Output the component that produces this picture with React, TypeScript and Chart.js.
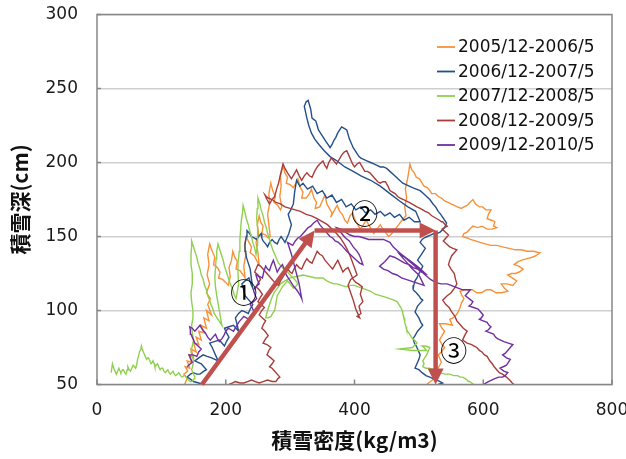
import React, { useEffect, useRef } from "react";
import { Chart, registerables } from "chart.js";

Chart.register(...registerables);

// ---- labels ----
const seriesLabels = [
  "2005/12-2006/5",
  "2006/12-2007/5",
  "2007/12-2008/5",
  "2008/12-2009/5",
  "2009/12-2010/5",
];
const seriesColors = ["#F7923A", "#24508A", "#8FD14F", "#A83E3A", "#7030A0"];
const xTitle = "積雪密度(kg/m3)";
const yTitle = "積雪深(cm)";
const xRange = [0, 800];
const yRange = [50, 300];

// ---- series: [density kg/m3, depth cm] ----
const s2006: [number, number][] = [
  [136,50],[140,54],[135,57],[141,59],[137,62],[144,61],[140,66],[147,65],[143,70],[150,68],[146,74],[154,72],[150,78],[158,77],[154,82],[162,80],[158,86],[166,85],[162,90],[170,88],[166,95],[174,93],[170,100],[178,97],[172,104],[176,108],[170,112],[175,118],[171,124],[174,131],[172,138],[175,145],[179,140],[183,136],[181,131],[187,129],[191,126],[189,122],[195,121],[200,119],[204,117],[207,123],[205,129],[209,134],[211,140],[214,136],[218,133],[216,128],[222,127],[227,124],[230,122],[228,130],[231,137],[229,144],[232,150],[236,146],[240,143],[238,139],[244,137],[249,133],[252,131],[250,139],[247,146],[251,152],[249,158],[252,164],[254,160],[258,157],[256,152],[262,151],[266,149],[269,150],[267,158],[265,165],[268,172],[267,179],[270,186],[273,181],[277,177],[275,173],[281,171],[285,168],[287,170],[284,177],[286,184],[285,191],[289,198],[292,193],[296,190],[294,186],[300,185],[305,183],[309,186],[312,189],[316,183],[320,180],[318,176],[325,176],[330,179],[333,182],[337,176],[341,173],[339,169],[346,170],[351,175],[354,178],[357,172],[361,169],[365,166],[363,163],[369,168],[373,171],[377,167],[381,165],[385,161],[389,159],[393,164],[397,166],[401,161],[405,158],[409,155],[414,158],[418,161],[422,158],[426,155],[430,152],[435,155],[440,158],[444,155],[448,153],[453,150],[458,152],[463,155],[467,157],[472,160],[476,162],[480,164],[478,170],[481,176],[479,182],[482,188],[484,193],[486,199],[489,195],[493,193],[496,190],[501,189],[505,186],[508,184],[513,183],[517,181],[520,179],[526,179],[530,177],[535,176],[540,174],[545,173],[550,172],[555,171],[560,170],[566,169],[570,170],[575,171],[579,173],[584,175],[588,172],[594,170],[599,170],[604,168],[612,168],[608,165],[606,162],[613,161],[618,160],[616,157],[621,156],[614,155],[606,155],[598,157],[591,156],[584,157],[579,155],[575,153],[570,152],[568,150],[575,149],[580,148],[588,147],[595,146],[603,145],[612,144],[621,144],[630,143],[640,142],[650,141],[659,141],[668,140],[678,140],[688,139],[682,137],[676,136],[668,135],[660,134],[654,133],[648,131],[655,130],[662,128],[656,126],[650,125],[644,125],[638,124],[645,122],[652,120],[648,118],[646,117],[637,118],[628,118],[633,115],[638,113],[629,112],[620,112],[612,114],[605,114],[597,112],[590,112],[583,114],[576,114],[570,114],[564,113],[567,110],[570,108],[566,105],[564,102],[561,99],[558,97],[553,95],[548,94],[550,92],[552,90],[542,91],[532,91],[536,88],[540,86],[536,83],[532,80],[536,77],[540,75],[535,72],[530,70],[533,67],[535,65],[531,62],[528,60],[527,57],[525,55],[521,53],[518,52],[512,50],
];

const s2007: [number, number][] = [
  [165,50],[158,51],[150,52],[144,54],[140,55],[145,57],[150,58],[155,57],[160,57],[166,59],[170,60],[166,62],[162,64],[157,65],[152,66],[158,68],[165,70],[171,69],[178,68],[183,67],[188,66],[185,69],[182,72],[179,75],[175,78],[182,79],[190,80],[194,78],[198,76],[201,79],[205,82],[201,85],[198,88],[205,89],[212,90],[216,88],[220,86],[218,90],[215,95],[220,98],[225,100],[230,99],[235,98],[238,101],[242,104],[236,107],[230,110],[228,114],[225,118],[230,120],[236,122],[239,118],[242,115],[240,121],[238,128],[235,132],[232,136],[231,140],[230,145],[232,150],[233,154],[237,152],[240,150],[244,149],[248,148],[251,150],[255,152],[256,149],[258,147],[262,145],[265,143],[268,146],[272,148],[276,146],[280,145],[283,148],[286,150],[289,148],[292,146],[295,149],[298,152],[300,155],[302,158],[299,162],[297,165],[301,168],[305,172],[307,180],[310,188],[315,184],[320,186],[327,182],[335,184],[342,179],[350,181],[357,176],[365,178],[372,173],[380,175],[387,170],[395,172],[402,168],[410,170],[417,166],[425,168],[432,165],[440,167],[447,164],[455,166],[462,163],[470,165],[477,161],[485,163],[493,160],[502,160],[498,164],[495,167],[483,170],[470,174],[455,179],[440,184],[425,188],[410,191],[398,194],[385,197],[373,201],[362,204],[353,208],[345,212],[338,216],[333,220],[329,225],[326,230],[324,234],[322,238],[325,241],[328,242],[330,239],[332,236],[333,233],[334,230],[337,229],[340,228],[342,225],[344,222],[347,220],[350,218],[353,216],[356,214],[359,212],[362,210],[365,212],[368,215],[371,217],[374,220],[377,222],[380,224],[384,223],[388,222],[390,219],[392,216],[395,213],[398,210],[401,208],[404,206],[407,204],[410,203],[415,202],[420,201],[425,200],[430,199],[435,198],[440,197],[445,197],[450,196],[455,194],[460,192],[465,190],[470,188],[475,186],[480,185],[485,184],[490,183],[496,182],[502,181],[507,179],[512,177],[517,175],[522,172],[526,170],[530,167],[534,165],[537,163],[540,161],[543,159],[541,157],[538,155],[533,153],[528,152],[523,152],[518,151],[513,150],[508,149],[505,148],[502,146],[506,144],[510,142],[507,140],[504,138],[501,136],[498,134],[502,132],[506,130],[503,127],[500,125],[497,122],[494,120],[492,117],[491,114],[496,112],[500,110],[503,108],[506,107],[502,105],[498,103],[496,101],[494,99],[497,97],[500,95],[503,92],[506,90],[502,88],[498,86],[494,83],[491,81],[493,78],[496,76],[499,73],[502,70],[500,67],[498,65],[496,63],[494,61],[500,60],[505,58],[511,56],[517,55],[522,54],[528,53],[533,52],[537,51],[530,50],
];

const s2008: [number, number][] = [
  [22,58],[24,64],[26,61],[27,60],[30,57],[32,59],[34,61],[36,59],[37,58],[40,60],[41,60],[43,58],[45,57],[47,60],[48,62],[50,60],[52,59],[54,61],[56,63],[58,62],[60,61],[62,64],[63,67],[65,70],[66,72],[68,74],[69,76],[70,74],[71,73],[73,71],[74,70],[76,68],[77,67],[79,68],[80,68],[82,66],[84,64],[86,65],[87,66],[89,64],[90,62],[92,63],[94,64],[96,62],[98,60],[100,61],[102,61],[104,59],[106,58],[108,59],[110,60],[112,58],[114,57],[116,58],[118,59],[120,57],[122,56],[125,57],[127,58],[130,56],[132,55],[135,56],[137,56],[140,54],[142,53],[145,52],[148,52],[151,54],[152,55],[149,58],[147,60],[149,63],[150,66],[148,69],[146,72],[148,76],[150,80],[148,85],[147,90],[149,95],[149,100],[147,106],[146,112],[148,118],[148,125],[146,131],[146,138],[147,143],[147,147],[150,143],[152,140],[155,136],[157,132],[160,128],[162,124],[165,121],[167,117],[170,114],[172,110],[175,107],[177,104],[180,101],[182,98],[185,96],[188,94],[191,92],[194,90],[192,95],[190,100],[188,105],[186,110],[184,116],[183,122],[184,128],[185,135],[186,140],[188,145],[190,142],[193,138],[196,134],[198,130],[201,126],[204,122],[207,118],[210,115],[213,111],[216,108],[218,113],[220,118],[219,125],[219,132],[221,140],[222,148],[223,154],[224,160],[226,166],[227,171],[230,166],[232,162],[235,158],[237,154],[240,150],[242,146],[245,142],[247,138],[249,144],[250,150],[249,156],[248,162],[249,169],[250,176],[253,172],[255,168],[258,164],[260,160],[263,156],[265,152],[268,148],[270,145],[273,141],[276,138],[279,135],[282,132],[286,130],[290,128],[294,127],[298,125],[302,123],[305,122],[309,120],[312,118],[308,116],[305,115],[300,118],[296,120],[292,118],[288,116],[284,113],[280,110],[278,105],[276,100],[273,98],[270,96],[266,95],[262,95],[265,100],[268,104],[271,108],[275,112],[280,115],[285,118],[292,120],[300,122],[310,123],[320,124],[330,123],[340,122],[346,122],[351,122],[357,120],[362,119],[368,118],[373,118],[380,117],[388,116],[394,117],[400,117],[406,116],[413,115],[419,114],[425,113],[432,111],[440,110],[448,109],[455,108],[461,107],[466,106],[469,104],[472,102],[474,100],[475,98],[477,95],[478,92],[480,89],[481,87],[484,85],[487,83],[490,81],[493,80],[495,79],[497,78],[490,75],[470,74],[490,73],[512,73],[508,75],[505,76],[511,76],[517,75],[514,72],[512,70],[509,68],[506,66],[508,64],[506,62],[511,61],[516,61],[524,60],[533,58],[540,57],[548,57],[554,56],[560,56],[564,55],[568,55],[572,54],[575,53],[577,52],[579,52],[582,51],[585,50],
];

const s2009: [number, number][] = [
  [205,50],[210,51],[215,52],[222,51],[228,51],[234,52],[240,53],[246,52],[252,51],[258,52],[265,53],[272,52],[278,52],[281,54],[284,55],[280,57],[276,59],[272,61],[268,62],[272,64],[275,66],[270,68],[264,70],[267,73],[270,75],[264,77],[258,78],[262,81],[266,83],[261,86],[256,88],[259,91],[262,93],[257,95],[252,97],[256,100],[260,102],[255,104],[250,106],[254,109],[257,111],[252,114],[247,116],[251,119],[254,121],[250,124],[245,126],[248,129],[250,131],[254,130],[258,128],[262,126],[266,124],[270,122],[274,120],[278,118],[282,117],[285,120],[288,122],[292,125],[296,128],[300,126],[303,125],[306,128],[310,131],[314,129],[318,128],[322,132],[326,135],[330,133],[334,132],[338,136],[342,140],[346,138],[350,137],[354,134],[358,132],[362,130],[366,128],[370,131],[374,134],[378,130],[382,126],[386,128],[390,129],[394,125],[398,121],[402,119],[406,118],[409,117],[412,116],[409,111],[413,106],[407,103],[410,98],[404,96],[408,95],[402,101],[398,107],[394,112],[390,117],[394,121],[404,124],[399,130],[394,136],[389,141],[384,145],[378,149],[372,152],[365,155],[358,158],[350,160],[342,162],[333,164],[325,165],[316,167],[308,168],[300,169],[292,170],[285,172],[278,173],[272,175],[266,176],[263,177],[261,178],[264,175],[268,172],[272,175],[276,177],[279,182],[282,186],[285,192],[289,199],[292,196],[296,193],[299,191],[302,189],[306,192],[310,195],[314,191],[318,188],[322,191],[326,193],[330,191],[334,190],[338,194],[342,197],[346,199],[351,201],[354,198],[357,196],[360,200],[364,203],[368,201],[372,199],[376,202],[380,205],[384,207],[388,208],[391,205],[394,202],[397,199],[400,197],[404,199],[408,200],[412,197],[416,194],[420,194],[424,193],[428,191],[432,189],[436,187],[440,186],[444,187],[448,187],[452,184],[455,181],[459,180],[463,179],[467,177],[471,176],[476,175],[480,174],[485,173],[489,172],[493,171],[497,170],[502,169],[506,168],[510,167],[515,166],[520,164],[524,163],[528,162],[532,161],[535,160],[537,160],[541,158],[544,157],[540,156],[536,155],[541,153],[546,151],[542,149],[538,147],[543,145],[548,143],[553,142],[559,141],[555,139],[551,137],[548,134],[546,131],[550,128],[555,125],[557,121],[559,118],[555,115],[550,112],[544,110],[537,107],[542,104],[547,102],[551,99],[556,96],[559,93],[563,91],[569,88],[575,86],[571,83],[568,80],[575,78],[582,77],[586,76],[590,75],[594,73],[598,72],[602,70],[606,69],[610,66],[614,64],[617,62],[621,60],[625,58],[630,57],[636,55],[641,53],[645,51],[648,50],
];

const s2010: [number, number][] = [
  [140,62],[145,64],[148,65],[145,68],[143,70],[149,70],[155,69],[158,72],[162,74],[157,76],[152,78],[149,81],[146,84],[145,87],[144,89],[148,88],[152,86],[156,88],[160,90],[164,87],[168,85],[172,82],[176,80],[180,82],[184,84],[187,81],[190,79],[194,81],[197,83],[200,86],[204,88],[208,87],[212,86],[216,89],[220,92],[224,94],[228,96],[232,95],[236,94],[240,97],[244,99],[241,102],[238,104],[243,106],[248,108],[245,111],[243,114],[247,116],[252,118],[249,121],[247,124],[252,123],[257,122],[259,126],[262,130],[265,128],[268,127],[271,131],[274,134],[277,130],[280,126],[284,129],[288,131],[291,128],[294,124],[297,122],[300,120],[303,118],[306,116],[310,114],[313,112],[316,110],[318,108],[316,113],[314,118],[311,123],[308,128],[305,133],[302,138],[299,142],[296,146],[300,145],[304,144],[308,147],[312,149],[316,150],[320,152],[324,154],[328,156],[332,157],[336,159],[339,160],[342,161],[346,158],[350,156],[354,154],[358,152],[362,150],[366,149],[370,147],[375,146],[380,144],[384,142],[388,140],[393,138],[398,136],[403,134],[408,132],[413,131],[410,135],[407,138],[404,140],[398,143],[392,147],[386,149],[380,152],[376,154],[372,156],[379,155],[386,153],[393,151],[400,150],[407,150],[415,149],[422,148],[430,148],[437,148],[445,148],[450,147],[455,146],[460,143],[465,141],[470,139],[476,137],[482,135],[488,133],[494,131],[500,129],[505,127],[510,125],[504,126],[498,128],[491,129],[485,131],[478,132],[470,134],[462,136],[455,137],[447,133],[439,130],[445,128],[452,127],[459,125],[466,124],[473,122],[480,121],[487,120],[494,119],[501,118],[508,117],[500,124],[490,128],[480,133],[470,138],[478,136],[486,133],[494,130],[502,127],[510,124],[518,121],[526,119],[534,118],[544,118],[550,117],[556,116],[562,115],[568,114],[574,114],[580,114],[576,112],[572,110],[578,108],[584,106],[581,104],[578,103],[585,102],[592,101],[596,99],[600,97],[597,95],[594,94],[600,93],[606,92],[609,90],[612,89],[608,87],[604,86],[610,85],[616,84],[619,82],[622,81],[627,80],[632,79],[639,78],[646,77],[642,75],[638,73],[634,71],[630,70],[636,68],[642,67],[639,65],[636,63],[631,62],[626,61],[632,59],[638,58],[634,56],[630,55],[624,55],[618,54],[613,53],[608,52],[604,51],[600,50],
];

const seriesData = [s2006, s2007, s2008, s2009, s2010];

// ---- annotation arrows and markers (data coords) ----
const arrowSegments: [number, number][][] = [
  [[163, 50], [338, 154]],
  [[338, 154], [526, 154]],
  [[526, 154], [526, 50]],
];
const markerLabels = ["①", "②", "③"];
const markerX = [228, 416, 554];
const markerY = [112, 165.5, 72.5];

export default function App() {
  const canvasRef = useRef<HTMLCanvasElement | null>(null);

  useEffect(() => {
    const canvas = canvasRef.current;
    if (!canvas) return;

    const overlay = {
      id: "overlay",
      afterDatasetsDraw(chart: any) {
        const { ctx, chartArea, scales } = chart;
        const xs = scales.x;
        const ys = scales.y;
        ctx.save();
        // frame
        ctx.strokeStyle = "#868686";
        ctx.lineWidth = 1.5;
        ctx.strokeRect(
          chartArea.left,
          chartArea.top,
          chartArea.right - chartArea.left,
          chartArea.bottom - chartArea.top
        );
        // inner tick marks
        ctx.beginPath();
        ys.ticks.forEach((t: any) => {
          const py = ys.getPixelForValue(t.value);
          ctx.moveTo(chartArea.left, py);
          ctx.lineTo(chartArea.left + 4, py);
        });
        xs.ticks.forEach((t: any) => {
          const px = xs.getPixelForValue(t.value);
          ctx.moveTo(px, chartArea.bottom);
          ctx.lineTo(px, chartArea.bottom - 5);
        });
        ctx.stroke();

        // arrows
        const col = "#C0504D";
        ctx.strokeStyle = col;
        ctx.fillStyle = col;
        ctx.lineWidth = 4.5;
        ctx.lineCap = "butt";
        arrowSegments.forEach((seg) => {
          const x1 = xs.getPixelForValue(seg[0][0]);
          const y1 = ys.getPixelForValue(seg[0][1]);
          const x2 = xs.getPixelForValue(seg[1][0]);
          const y2 = ys.getPixelForValue(seg[1][1]);
          const a = Math.atan2(y2 - y1, x2 - x1);
          const hl = 16;
          const hw = 8;
          ctx.beginPath();
          ctx.moveTo(x1, y1);
          ctx.lineTo(x2 - Math.cos(a) * hl * 0.8, y2 - Math.sin(a) * hl * 0.8);
          ctx.stroke();
          ctx.beginPath();
          ctx.moveTo(x2, y2);
          ctx.lineTo(
            x2 - Math.cos(a) * hl - Math.sin(a) * hw,
            y2 - Math.sin(a) * hl + Math.cos(a) * hw
          );
          ctx.lineTo(
            x2 - Math.cos(a) * hl + Math.sin(a) * hw,
            y2 - Math.sin(a) * hl - Math.cos(a) * hw
          );
          ctx.closePath();
          ctx.fill();
        });

        // circled markers
        ctx.fillStyle = "#000";
        ctx.font = "27px 'Noto Sans CJK JP'";
        ctx.textAlign = "center";
        ctx.textBaseline = "middle";
        markerLabels.forEach((m, i) => {
          ctx.fillText(m, xs.getPixelForValue(markerX[i]), ys.getPixelForValue(markerY[i]));
        });

        // legend
        const lx = chartArea.left + 340;
        const ly = chartArea.top + 32.5;
        ctx.font = "17px 'DejaVu Sans'";
        ctx.textAlign = "left";
        ctx.textBaseline = "middle";
        seriesLabels.forEach((lab, i) => {
          const yy = ly + i * 24.5;
          ctx.strokeStyle = seriesColors[i];
          ctx.lineWidth = 1.8;
          ctx.beginPath();
          ctx.moveTo(lx, yy);
          ctx.lineTo(lx + 18, yy);
          ctx.stroke();
          ctx.fillStyle = "#111";
          ctx.fillText(lab, lx + 21, yy + 1);
        });
        ctx.restore();
      },
    };

    const chart = new Chart(canvas, {
      type: "scatter",
      data: {
        datasets: seriesData.map((d, i) => ({
          label: seriesLabels[i],
          data: d.map((p) => ({ x: p[0], y: p[1] })),
          showLine: true,
          borderColor: seriesColors[i],
          backgroundColor: seriesColors[i],
          borderWidth: 1.4,
          pointRadius: 0,
          pointHoverRadius: 0,
          tension: 0,
          order: seriesData.length - 1 - i,
        })),
      },
      options: {
        responsive: false,
        animation: false,
        events: [],
        layout: { padding: { top: 14.5, right: 14, left: 0, bottom: 0 } },
        plugins: {
          legend: { display: false },
          tooltip: { enabled: false },
        },
        scales: {
          x: {
            type: "linear",
            min: xRange[0],
            max: xRange[1],
            afterFit: (s: any) => {
              s.height = 74.5;
              s.paddingLeft = 0;
              s.paddingRight = 0;
            },
            ticks: {
              stepSize: 200,
              padding: 16,
              color: "#1a1a1a",
              font: { family: "'DejaVu Sans'", size: 17 },
              maxRotation: 0,
            },
            grid: { display: false, drawTicks: false },
            border: { display: false },
            title: {
              display: true,
              text: xTitle,
              color: "#111",
              font: { family: "'Noto Sans CJK JP'", size: 21, weight: "bold" },
              padding: { top: 0, bottom: 6 },
            },
          },
          y: {
            type: "linear",
            min: yRange[0],
            max: yRange[1],
            afterFit: (s: any) => {
              s.width = 97;
              s.paddingTop = 0;
              s.paddingBottom = 0;
            },
            ticks: {
              stepSize: 50,
              padding: 19,
              color: "#1a1a1a",
              font: { family: "'DejaVu Sans'", size: 17 },
            },
            grid: { color: "#CFCFCF", lineWidth: 1.5, drawTicks: false },
            border: { display: false },
            title: {
              display: true,
              text: yTitle,
              color: "#111",
              font: { family: "'Noto Sans CJK JP'", size: 21, weight: "bold" },
              padding: { top: 7, bottom: 0 },
            },
          },
        },
      },
      plugins: [overlay],
    });
    return () => chart.destroy();
  }, []);

  return (
    <div style={{ position: "absolute", left: 0, top: 0, width: 626, height: 459, background: "#fff" }}>
      <canvas ref={canvasRef} width={626} height={459} style={{ display: "block" }} />
    </div>
  );
}
